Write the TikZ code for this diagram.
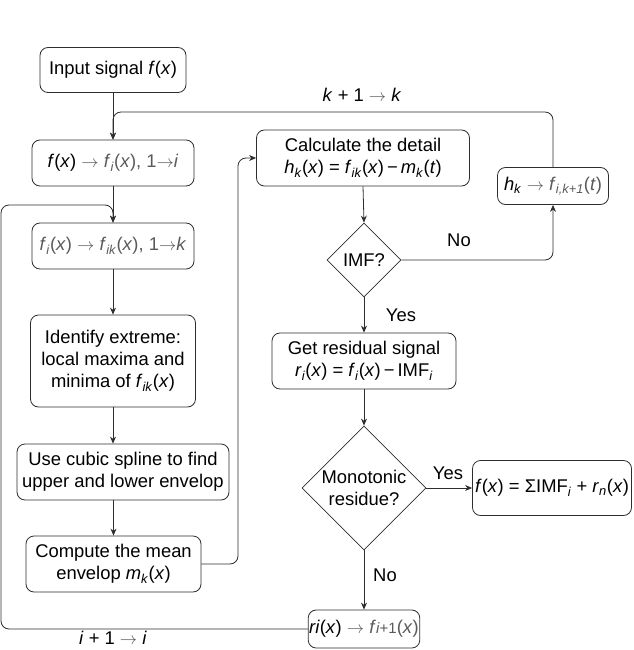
\documentclass[tikz,border=0pt]{standalone}
\usepackage{fontspec}
\setmainfont{Liberation Sans}
\usetikzlibrary{arrows.meta,shapes.geometric}
\definecolor{linec}{HTML}{2E2E2E}
\definecolor{txtgray}{HTML}{5A5A5A}
\newcommand\gr[1]{\textcolor{txtgray}{#1}}
\newcommand\vi[1]{\textit{#1}}
\newcommand\sbi[1]{\textsubscript{\textit{#1}}}
\newcommand\ar{\ensuremath{\rightarrow}}
\begin{document}
\begin{tikzpicture}[x=1pt,y=-1pt,
  every node/.style={font=\fontsize{18.4}{22}\selectfont, text=black},
  box/.style={draw=linec, line width=0.8pt, rounded corners=8pt, align=center, inner sep=2pt},
  dec/.style={draw=linec, line width=0.8pt, diamond, aspect=1, inner sep=0pt},
  arr/.style={draw=linec, line width=0.8pt, -{Stealth[length=7pt,width=6pt]}},
  lbl/.style={inner sep=0pt}]
\useasboundingbox (0,0) rectangle (633,650);

\node[box, minimum width=146, minimum height=45] (in) at (113,70) {Input signal \vi{f}(\vi{x})};
\node[box, minimum width=162, minimum height=46] (fi) at (113,163) {\vi{f}(\vi{x}) \gr{\ar{} \vi{f}\sbi{i}(\vi{x}), 1\ar\vi{i}}};
\node[box, minimum width=162, minimum height=46] (fik) at (113,246) {\gr{\vi{f}\sbi{i}(\vi{x}) \ar{} \vi{f}\sbi{ik}(\vi{x}), 1\ar\vi{k}}};
\node[box, minimum width=165, minimum height=92] (ident) at (113,361) {Identify extreme:\\local maxima and\\minima of \vi{f}\sbi{ik}(\vi{x})};
\node[box, minimum width=212, minimum height=56] (spline) at (123,472) {Use cubic spline to find\\upper and lower envelop};
\node[box, minimum width=175, minimum height=56] (mean) at (113.5,564) {Compute the mean\\envelop \vi{m}\sbi{k}(\vi{x})};

\node[box, minimum width=213, minimum height=56] (calc) at (363,158) {Calculate the detail\\\vi{h}\sbi{k}(\vi{x}) = \vi{f}\sbi{ik}(\vi{x})\,−\,\vi{m}\sbi{k}(\vi{t})};
\node[dec, minimum width=74, minimum height=74] (imf) at (364,260) {};
\node[lbl] (imft) at (imf.center) {IMF?};
\node[box, minimum width=111, minimum height=37, inner sep=1pt] (hk) at (553,186) {\vi{h}\sbi{k} \gr{\ar{} \vi{f}\sbi{i,k+1}(\vi{t})}};
\node[box, minimum width=184, minimum height=56] (res) at (364,361) {Get residual signal\\\vi{r}\sbi{i}(\vi{x}) = \vi{f}\sbi{i}(\vi{x})\,−\,IMF\sbi{i}};
\node[dec, minimum width=124, minimum height=124] (mono) at (364,488) {};
\node[lbl, align=center] (monot) at (mono.center) {Monotonic\\residue?};
\node[box, minimum width=159, minimum height=55] (fin) at (552,488) {\vi{f}(\vi{x}) = ΣIMF\sbi{i} + \vi{r}\sbi{n}(\vi{x})};
\node[box, minimum width=111, minimum height=38, inner sep=1pt] (ri) at (364,629) {\vi{ri}(\vi{x}) \gr{\ar{} \vi{f}{\fontsize{15}{15}\selectfont\vi{i}+1}(\vi{x})}};

% coordinates for loops
\coordinate (ktop) at (113,112);
\coordinate (mA) at (238,564);
\coordinate (iA) at (1,629);
\coordinate (iB) at (1,205);
\coordinate (iC) at (113,205);

% main flow
\draw[arr] (in) -- (fi);
\draw[arr] (fi) -- (fik);
\draw[arr] (fik) -- (ident);
\draw[arr] (ident.south) -- (ident.south |- spline.north);
\draw[arr] (spline.south -| mean.north) -- (mean.north);
\draw[arr, rounded corners=8pt] (mean.east) -- (mA) |- (calc.west);
\draw[arr] (calc.south) -- (imf.north);
\draw[arr, rounded corners=8pt] (imf.east) -| (hk.south);
\draw[arr, rounded corners=8pt] (hk.north) |- (ktop) -- (fi.north);
\draw[arr] (imf.south) -- (res.north);
\draw[arr] (res.south) -- (mono.north);
\draw[arr] (mono.east) -- (fin.west);
\draw[arr] (mono.south) -- (ri.north);
\draw[arr, rounded corners=8pt] (ri.west) -- (iA) -- (iB) -- (iC) -- (fik.north);

% labels
\node[lbl] (l1) at (362,95) {\vi{k} + 1 \gr{\ar} \vi{k}};
\node[lbl] (l2) at (459,240) {No};
\node[lbl] (l3) at (401,315) {Yes};
\node[lbl] (l4) at (448,473) {Yes};
\node[lbl] (l5) at (385,575) {No};
\node[lbl] (l6) at (113,638) {\vi{i} + 1 \gr{\ar} \vi{i}};
\end{tikzpicture}
\end{document}
